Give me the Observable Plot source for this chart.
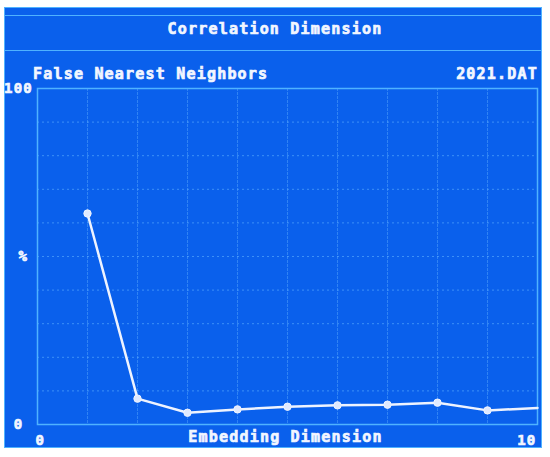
<!DOCTYPE html>
<html>
<head>
<meta charset="utf-8">
<script src="https://cdn.jsdelivr.net/npm/d3@7"></script>
<script src="https://cdn.jsdelivr.net/npm/@observablehq/plot@0.6"></script>
<style>
  html, body { margin: 0; padding: 0; background: #ffffff; }
  #wrap { position: relative; width: 550px; height: 457px; overflow: hidden;
          font-family: "DejaVu Sans Mono", monospace; font-weight: bold; color: #f2f6ff; }
  #panel { position: absolute; left: 4px; top: 7px; width: 536px; height: 439px;
           background: #0a60ec; border: 1.5px solid #4fb2ff; }
  .hline { position: absolute; left: 4px; width: 538px; height: 0; border-top: 1.5px solid #4fb2ff; }
  .txt { position: absolute; font-size: 15px; letter-spacing: 1.2px; line-height: 16px; white-space: nowrap;
         -webkit-text-stroke: 0.7px #f2f6ff; }
  #chart { position: absolute; left: 0; top: 0; }
  #chart svg text { stroke: #f2f6ff; stroke-width: 0.7px; }
</style>
</head>
<body>
<div id="wrap">
  <div id="panel"></div>
  <div class="hline" style="top:15px"></div>
  <div class="hline" style="top:50px"></div>
  <div class="txt" style="left:0;width:550px;text-align:center;top:21px;">Correlation Dimension</div>
  <div class="txt" style="left:33px;top:66px;">False Nearest Neighbors</div>
  <div class="txt" style="right:12px;top:66px;">2021.DAT</div>
  <div id="chart"></div>
</div>
<script>
// Data
const dims = [1, 2, 3, 4, 5, 6, 7, 8, 9, 10];
const fnnPct = [62.8, 7.7, 3.5, 4.5, 5.3, 5.7, 5.9, 6.5, 4.2, 4.9];
const yTicks = [0, 100];
const xTickStart = [0];
const xTickEnd = [10];
const xLabel = "Embedding Dimension";
const yLabel = "%";

const data = dims.map((d, i) => ({dim: d, pct: fnnPct[i]}));
const fg = "#f2f6ff";
const gridCol = "#5fb0ff";

const chart = Plot.plot({
  width: 550,
  height: 457,
  marginLeft: 37,
  marginRight: 13,
  marginTop: 88,
  marginBottom: 33,
  style: {background: "transparent", color: fg, fontFamily: "'DejaVu Sans Mono', monospace",
          fontSize: "14px", fontWeight: "bold", letterSpacing: "1.2px"},
  x: {domain: [0, 10]},
  y: {domain: [0, 100]},
  marks: [
    Plot.gridX(d3.range(1, 10), {stroke: gridCol, strokeOpacity: 0.45, strokeWidth: 1, strokeDasharray: "3,1"}),
    Plot.gridY(d3.range(10, 100, 10), {stroke: gridCol, strokeOpacity: 0.6, strokeWidth: 1, strokeDasharray: "2,3"}),
    Plot.frame({stroke: "#4fb2ff", strokeWidth: 1.5}),
    Plot.axisY(yTicks, {anchor: "left", tickSize: 0, tickPadding: 19, textAnchor: "middle", label: null, fill: fg}),
    Plot.text([yLabel], {frameAnchor: "left", dx: -19, text: d => d, fill: fg}),
    Plot.axisX(xTickStart, {anchor: "bottom", tickSize: 0, tickPadding: 11, textAnchor: "start", dx: -2, label: null, fill: fg}),
    Plot.axisX(xTickEnd, {anchor: "bottom", tickSize: 0, tickPadding: 11, textAnchor: "end", dx: -1, label: null, fill: fg}),
    Plot.text([xLabel], {frameAnchor: "bottom", dy: 17, dx: -2, text: d => d, fill: fg, fontSize: 15}),
    Plot.line(data, {x: "dim", y: "pct", stroke: "#eef3ff", strokeWidth: 2.5}),
    Plot.dot(data.filter(d => d.dim < 10), {x: "dim", y: "pct", r: 3.7, fill: "#dfe9ff", stroke: "#eef3ff", strokeWidth: 1})
  ]
});
document.getElementById("chart").appendChild(chart);
</script>
</body>
</html>
